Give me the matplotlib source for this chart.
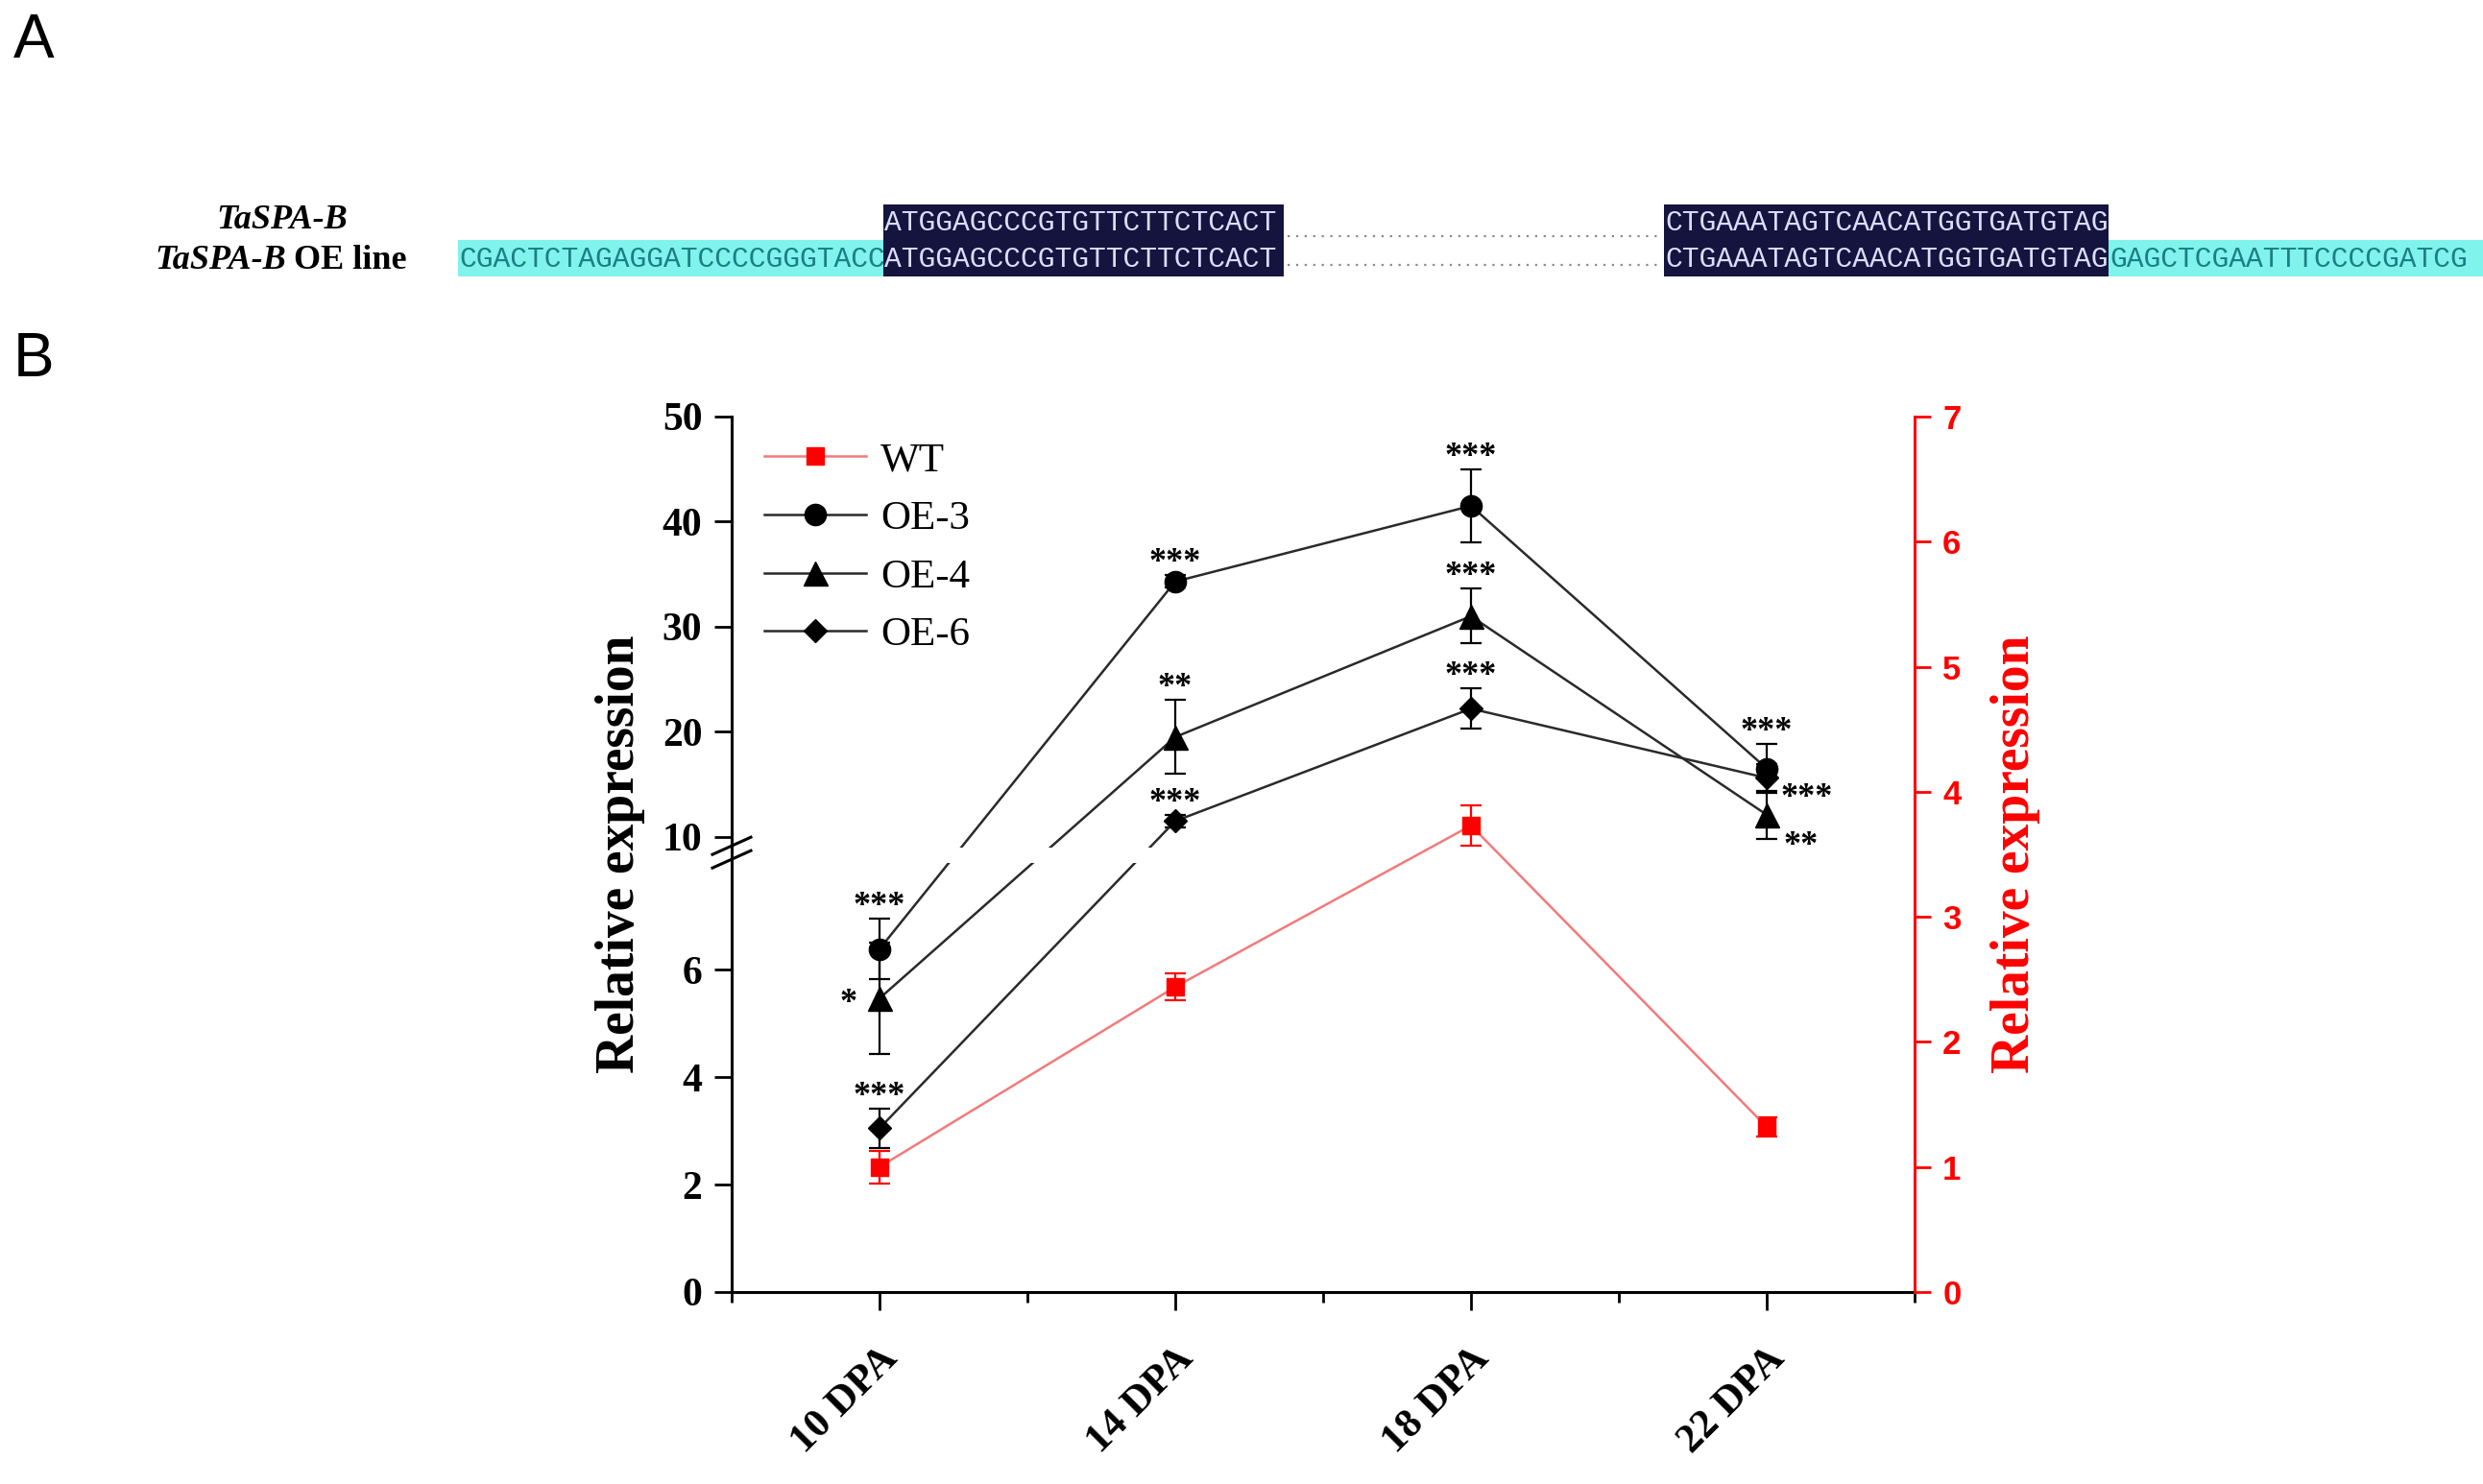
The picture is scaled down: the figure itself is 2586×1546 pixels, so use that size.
import numpy as np
import matplotlib
matplotlib.use('Agg')
import matplotlib.pyplot as plt
from matplotlib import transforms as mtransforms
from matplotlib.patches import Rectangle
from matplotlib.lines import Line2D

# panel B data
categories = ['10 DPA', '14 DPA', '18 DPA', '22 DPA']
wt = [1.0, 2.44, 3.73, 1.32]
wt_err = [0.13, 0.11, 0.16, 0.08]
oe3 = [6.39, 34.3, 41.5, 16.5]
oe3_err = [0.56, 0.6, 3.45, 2.3]
oe4 = [5.47, 19.5, 31.0, 12.1]
oe4_err = [1.04, 3.5, 2.6, 2.3]
oe6 = [3.05, 11.5, 22.2, 15.6]
oe6_err = [0.36, 0.6, 1.9, 1.3]
oe3_sig = ['***', '***', '***', '***']
oe4_sig = ['*', '**', '***', '**']
oe6_sig = ['***', '***', '***', '***']
oe3_sig_pos = ['above', 'above', 'above', 'above']
oe4_sig_pos = ['left', 'above', 'above', 'below_right']
oe6_sig_pos = ['above', 'above', 'above', 'right']
left_ticks = [0, 2, 4, 6, 10, 20, 30, 40, 50]

# panel A sequences
vec_left = 'CGACTCTAGAGGATCCCCGGGTACC'
cds_start = 'ATGGAGCCCGTGTTCTTCTCACT'
cds_end = 'CTGAAATAGTCAACATGGTGATGTAG'
vec_right = 'GAGCTCGAATTTCCCCGATCG'

W, H = 2586, 1546
plt.rcParams['font.family'] = 'Liberation Serif'
fig = plt.figure(figsize=(W / 100, H / 100), dpi=100)


def fx(x):
	return x / W


def fy(y):
	return 1 - y / H


# ---------- panel A ----------
fig.text(fx(14), fy(43), 'A', fontsize=46, family='Liberation Sans', ha='left', va='center')
fig.text(fx(14), fy(375), 'B', fontsize=46, family='Liberation Sans', ha='left', va='center')

navy = '#15143f'
cyan = '#7ff3ec'
row1, row2 = 232, 270


def box(x0, x1, y0, y1, color):
	fig.add_artist(Rectangle((fx(x0), fy(y1)), (x1 - x0) / W, (y1 - y0) / H,
		transform=fig.transFigure, facecolor=color, edgecolor='none'))


def seq(x0, y, s, color):
	fig.text(fx(x0 + 1), fy(y), s, family='Liberation Mono', fontsize=21.3,
		color=color, ha='left', va='center')


box(477, 920, 250, 288, cyan)
box(920, 1337, 213, 288, navy)
box(1733, 2196, 213, 288, navy)
box(2196, W, 250, 288, cyan)
seq(477, row2, vec_left, '#1c7f84')
seq(920, row1, cds_start, '#dcdcff')
seq(920, row2, cds_start, '#dcdcff')
seq(1733, row1, cds_end, '#dcdcff')
seq(1733, row2, cds_end, '#dcdcff')
seq(2196, row2, vec_right, '#1c7f84')
for yy in (row1 + 14, row2 + 6):
	fig.add_artist(Line2D([fx(1341), fx(1730)], [fy(yy), fy(yy)], transform=fig.transFigure,
		color='#8a8a8a', lw=1.6, linestyle=(0, (1, 3))))

fig.text(fx(294), fy(230), 'TaSPA-B', fontsize=26, style='italic', weight='bold',
	ha='center', va='center')
fig.text(fx(298), fy(272), 'TaSPA-B', fontsize=26, style='italic', weight='bold',
	ha='right', va='center')
fig.text(fx(306), fy(272), 'OE line', fontsize=26, weight='bold', ha='left', va='center')

# ---------- panel B ----------
# broken left axis: 0-8 linear, 10-50 compressed
K = 0.1957
JUMP = 0.48


def forward(y):
	y = np.asarray(y, dtype=float)
	return np.where(y <= 8, y, np.where(y >= 10, 8 + JUMP + (y - 10) * K, 8 + (y - 8) * JUMP / 2))


def inverse(f):
	f = np.asarray(f, dtype=float)
	return np.where(f <= 8, f, np.where(f >= 8 + JUMP, 10 + (f - 8 - JUMP) / K, 8 + (f - 8) * 2 / JUMP))


ax = fig.add_axes([762 / W, 200 / H, 1232 / W, 912 / H])
ax.set_yscale('function', functions=(forward, inverse))
ax2 = ax.twinx()

x = np.arange(1, len(categories) + 1)
line_kw = dict(color='#2a2a2a', lw=1.8, elinewidth=1.6, capsize=8, capthick=1.6, ecolor='black')
h3 = ax.errorbar(x, oe3, yerr=oe3_err, marker='o', ms=16, mfc='black', mec='black', label='OE-3', **line_kw)
h4 = ax.errorbar(x, oe4, yerr=oe4_err, marker='^', ms=18, mfc='black', mec='black', label='OE-4', **line_kw)
h6 = ax.errorbar(x, oe6, yerr=oe6_err, marker='D', ms=12, mfc='black', mec='black', label='OE-6', **line_kw)
hw = ax2.errorbar(x, wt, yerr=wt_err, marker='s', ms=13, color='#f27a7a', lw=1.8, mfc='red', mec='red',
	ecolor='red', elinewidth=1.6, capsize=8, capthick=1.6, label='WT')

# gap in the lines where they cross the axis break
ax.axhspan(8.0, 9.2, color='white', lw=0, zorder=2.2)

ax.set_xlim(0.5, 4.5)
ax.set_ylim(0, 50)
ax2.set_ylim(0, 7)
ax.set_yticks(left_ticks)
ax.set_yticklabels([str(t) for t in left_ticks])
ax.set_xticks(x)
ax.set_xticklabels(categories, rotation=45, ha='right', va='top', rotation_mode='anchor',
	fontsize=31, weight='bold')
ax.set_xticks([0.5, 1.5, 2.5, 3.5, 4.5], minor=True)
for lbl in ax.get_xticklabels():
	lbl.set_transform(lbl.get_transform() + mtransforms.ScaledTranslation(0.35, 0, fig.dpi_scale_trans))

for sp in ('top', 'right'):
	ax.spines[sp].set_visible(False)
for sp in ('top', 'left', 'bottom'):
	ax2.spines[sp].set_visible(False)
ax.spines['left'].set_linewidth(2.2)
ax.spines['bottom'].set_linewidth(2.2)
ax2.spines['right'].set_linewidth(2.2)
ax2.spines['right'].set_color('red')

ax.tick_params(axis='y', direction='out', length=13, width=2, pad=9, labelsize=30)
for lbl in ax.get_yticklabels():
	lbl.set_fontweight('bold')
ax.tick_params(axis='x', which='major', direction='out', length=14, width=2, pad=22)
ax.tick_params(axis='x', which='minor', direction='out', length=8, width=2)
ax.tick_params(axis='y', which='minor', left=False)
ax2.tick_params(axis='y', direction='out', length=12, width=2, pad=9, colors='red', labelsize=25)
ax2.set_yticks(range(0, 8))
for lbl in ax2.get_yticklabels():
	lbl.set_fontfamily('Liberation Sans')
	lbl.set_fontweight('bold')

ax.set_ylabel('Relative expression', fontsize=40, weight='bold', va='center')
ax.yaxis.set_label_coords(-0.094, 0.5)
ax2.set_ylabel('Relative expression', fontsize=40, weight='bold', color='red', va='center')
ax2.yaxis.set_label_coords(1.085, 0.5)

# break marks on the left spine
brk = fig.dpi_scale_trans + mtransforms.ScaledTranslation(0, 9, ax.get_yaxis_transform())
for dy in (0.03, -0.11):
	ax.add_line(Line2D([-0.2, 0.2], [dy - 0.08, dy + 0.1], transform=brk, color='black', lw=2.2,
		clip_on=False, zorder=4))

# significance stars
offsets = {'above': (0, 3, 'center'), 'left': (-23, -10, 'center'),
	'right': (30, -21, 'center'), 'below_right': (26, -30, 'center')}
for vals, errs, sigs, poss in ((oe3, oe3_err, oe3_sig, oe3_sig_pos), (oe4, oe4_err, oe4_sig, oe4_sig_pos),
		(oe6, oe6_err, oe6_sig, oe6_sig_pos)):
	for xi, v, e, s, p in zip(x, vals, errs, sigs, poss):
		dx, dy, ha = offsets[p]
		yy = v + e if p == 'above' else v
		ax.annotate(s, (xi, yy), xytext=(dx, dy), textcoords='offset points', ha=ha, va='baseline',
			fontsize=26, weight='bold', zorder=5)

ax.legend(handles=[hw.lines[0], h3.lines[0], h4.lines[0], h6.lines[0]],
	labels=['WT', 'OE-3', 'OE-4', 'OE-6'], loc='upper left', bbox_to_anchor=(0.014, 0.99),
	borderaxespad=0, frameon=False, fontsize=31, handlelength=2.45, handletextpad=0.35,
	labelspacing=0.5)

fig.savefig('out.png', dpi=100)
